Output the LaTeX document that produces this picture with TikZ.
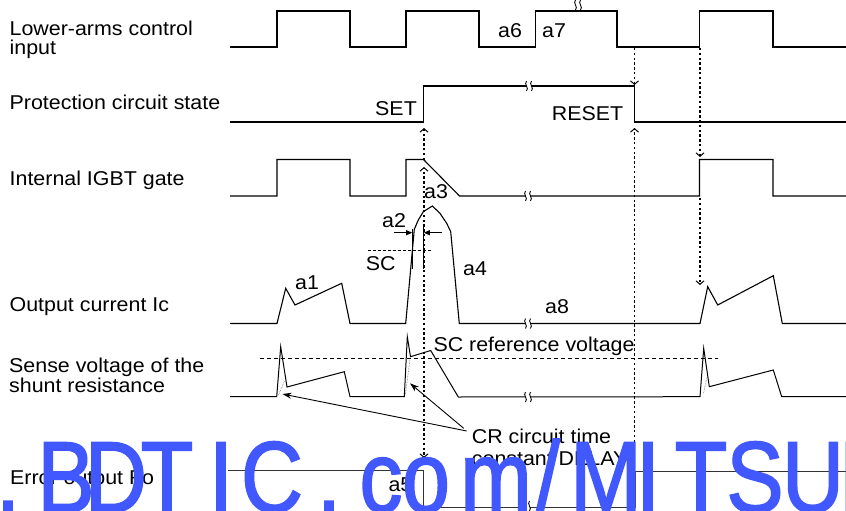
\documentclass[tikz,border=0pt]{standalone}
\usepackage{fontspec}
\setmainfont{Liberation Sans}
\newfontfamily\lab{Liberation Sans}[FakeStretch=1.07]
\newfontfamily\wmfont{Liberation Sans}[FakeStretch=0.85,FakeBold=1.6]
\usetikzlibrary{arrows.meta}
\definecolor{wmblue}{RGB}{66,88,255}
\begin{document}
\begin{tikzpicture}[x=1pt,y=-1pt,
  wave/.style={line width=1.1pt, line join=miter},
  lbl/.style={font=\lab\fontsize{20}{20}\selectfont, inner sep=0pt, anchor=base west},
  dotarrow/.style={line width=1.6pt, dash pattern=on 2.4pt off 2.4pt,
     -{Straight Barb[length=3.5pt,width=8pt,line width=1pt]}},
  thinarrow/.style={line width=0.8pt, -{Triangle[length=6pt,width=5pt]}},
  crarrow/.style={line width=0.9pt, -{Stealth[length=9pt,width=6pt]}},
  wmk/.style={font=\wmfont\fontsize{101}{101}\selectfont, text=wmblue, inner sep=0pt, anchor=base},
  brk/.pic={
    \fill[white] (-2.5,-5) .. controls (-5.5,-2) and (0.5,2) .. (-2.5,5) -- (2.5,5) .. controls (5.5,2) and (-0.5,-2) .. (2.5,-5) -- cycle;
    \draw[line width=0.9pt] (-2.5,-5) .. controls (-5.5,-2) and (0.5,2) .. (-2.5,5);
    \draw[line width=0.9pt] (2.5,-5) .. controls (-0.5,-2) and (5.5,2) .. (2.5,5);
  }]
\useasboundingbox (0,0) rectangle (846,511);
\fill[white] (0,0) rectangle (846,511);

% ---- left labels
\node[lbl] (l1a) at (9.5,36) {Lower-arms control};
\node[lbl] (l1b) at (9.5,55) {input};
\node[lbl] (l2) at (9.5,109) {Protection circuit state};
\node[lbl] (l3) at (9.5,185.7) {Internal IGBT gate};
\node[lbl] (l4) at (9.5,311) {Output current Ic};
\node[lbl] (l5a) at (9,372.7) {Sense voltage of the};
\node[lbl] (l5b) at (9,392.3) {shunt resistance};
\node[lbl] (l6) at (10,484) {Error output Fo};

% ---- waveforms
% row 1
\draw[wave] (230,47) -- (277,47) -- (277,11) -- (350,11) -- (350,47) -- (406,47) -- (406,11) -- (479,11) -- (479,47) -- (535.5,47) -- (535.5,11) -- (617,11) -- (617,47) -- (699.5,47) -- (699.5,11) -- (773,11) -- (773,47) -- (846,47);
\pic at (578,5) {brk};
% row 2
\draw[wave] (230,122) -- (423.5,122) -- (423.5,86) -- (634.5,86) -- (634.5,122) -- (846,122);
\pic at (529,86) {brk};
% row 3
\draw[wave] (230,196) -- (277,196) -- (277,159.5) -- (350,159.5) -- (350,196) -- (406,196) -- (406,159.5) -- (423.5,159.5) -- (459.5,196) -- (699.5,196) -- (699.5,159.5) -- (773,159.5) -- (773,196) -- (846,196);
\pic at (528,196) {brk};
% row 4
\draw[wave] (230,323.5) -- (277,323.5) -- (285.7,288.3) -- (295,305) -- (341.7,283.3) -- (350,323.5) -- (405.7,323.5) -- (414.3,229.3) -- (418.3,220) -- (423.3,211.7) -- (432.3,206) -- (440,213.3) -- (446.7,223.3) -- (450.7,231.7) -- (459.3,323.5) -- (700,323.5) -- (707.7,286.7) -- (717.7,305) -- (773.3,275.7) -- (782.3,323.5) -- (846,323.5);
\pic at (528,323.5) {brk};
% row 5
\draw[wave,line width=1pt] (230,396.7) -- (276.7,396.7) -- (280.7,346.7) -- (287,387) -- (344.3,371.7) -- (350,396.7) -- (404.3,396.7) -- (407.3,336.7) -- (410.5,356.7) -- (430.7,350.5) -- (458.3,397) -- (700,396.7) -- (703.7,348.3) -- (709.3,386.7) -- (773.3,370) -- (781.7,396.7) -- (846,396.7);
\pic at (528,397) {brk};
\draw[black!60, line width=0.6pt, densely dotted] (278.5,395) -- (284.5,381);
\draw[black!60, line width=0.6pt, densely dotted] (405.5,394) -- (410,359);
\draw[black!60, line width=0.6pt, densely dotted] (703.5,393) -- (707,377);
% row 6
\draw[wave,line width=1pt,black!80] (228,470.7) -- (423.5,470.7) -- (423.5,507.7) -- (635,507.7) -- (635,471) -- (846,471);
\pic at (527,506) {brk};

% ---- SC level and reference
\draw[line width=1.2pt, dash pattern=on 3pt off 2pt] (367.7,250.7) -- (431,250.7);
\draw[line width=0.8pt, dash pattern=on 4pt off 3pt] (260,358.3) -- (718.3,358.3);

% ---- a2 markers
\draw[line width=0.8pt] (412.5,229) -- (412.5,269);
\draw[line width=0.8pt] (423.3,227) -- (423.3,269);
\coordinate (a2l) at (394,232.7);
\coordinate (a2r) at (441.7,232.7);
\coordinate (a2lt) at (412.2,232.7);
\coordinate (a2rt) at (423.8,232.7);
\draw[thinarrow] (a2l) -- (a2lt);
\draw[thinarrow] (a2r) -- (a2rt);

% ---- dotted causal arrows
\coordinate (r1a) at (634.5,48);
\coordinate (r2a) at (634.5,85);
\draw[dotarrow] (r1a) -- (r2a);
\coordinate (r1b) at (700,48);
\coordinate (r3b) at (700,157);
\draw[dotarrow] (r1b) -- (r3b);
\coordinate (r3c) at (700,198);
\coordinate (r4c) at (700,285);
\draw[dotarrow] (r3c) -- (r4c);
\coordinate (sc) at (424,250.7);
\coordinate (gateup) at (424,167);
\coordinate (gtop) at (424,160);
\coordinate (setup) at (424,128);
\coordinate (fodown) at (424,458);
\draw[dotarrow] (sc) -- (gateup);
\draw[dotarrow] (gtop) -- (setup);
\draw[dotarrow] (sc) -- (fodown);
\coordinate (forise) at (634.5,466);
\coordinate (resetup) at (634.5,128);
\draw[dotarrow] (forise) -- (resetup);

% ---- CR arrows
\coordinate (crtip) at (466.7,431);
\coordinate (crtip2) at (463.7,428.3);
\coordinate (cr1) at (282.5,394);
\coordinate (cr2) at (410,383.3);
\draw[crarrow] (crtip) -- (cr1);
\draw[crarrow] (crtip2) -- (cr2);

% ---- annotation labels
\node[lbl] (a6) at (498,37.5) {a6};
\node[lbl] (a7) at (542,37.5) {a7};
\node[lbl] (set) at (375,115) {SET};
\node[lbl] (reset) at (551.7,120) {RESET};
\node[lbl] (a3) at (424,198) {a3};
\node[lbl] (a2) at (382,227) {a2};
\node[lbl] (sclab) at (365.7,270) {SC};
\node[lbl] (a4) at (463,275) {a4};
\node[lbl] (a1) at (295,289) {a1};
\node[lbl] (a8) at (545,313) {a8};
\node[lbl] (scref) at (433.3,351.5) {SC reference voltage};
\node[lbl] (cra) at (471.7,443.3) {CR circuit time};
\node[lbl] (crb) at (471.7,465) {constant DELAY};
\node[lbl] (a5) at (388.3,491.7) {a5};

% ---- watermark
\node[wmk] (w1) at (8,512) {.};
\node[wmk] (w2) at (66,512) {B};
\node[wmk] (w3) at (116,512) {D};
\node[wmk] (w4) at (167,512) {T};
\node[wmk] (w5) at (221,512) {I};
\node[wmk] (w6) at (272,512) {C};
\node[wmk] (w7) at (329,512) {.};
\node[wmk] (w8) at (381,512) {c};
\node[wmk] (w9) at (426,512) {o};
\node[wmk] (w10) at (496,512) {m};
\node[wmk] (w11) at (548,512) {/};
\node[wmk] (w12) at (606,512) {M};
\node[wmk] (w13) at (648,512) {I};
\node[wmk] (w14) at (701,512) {T};
\node[wmk] (w15) at (755,512) {S};
\node[wmk] (w16) at (813,512) {U};
\node[wmk] (w17) at (868,512) {B};
\end{tikzpicture}
\end{document}
